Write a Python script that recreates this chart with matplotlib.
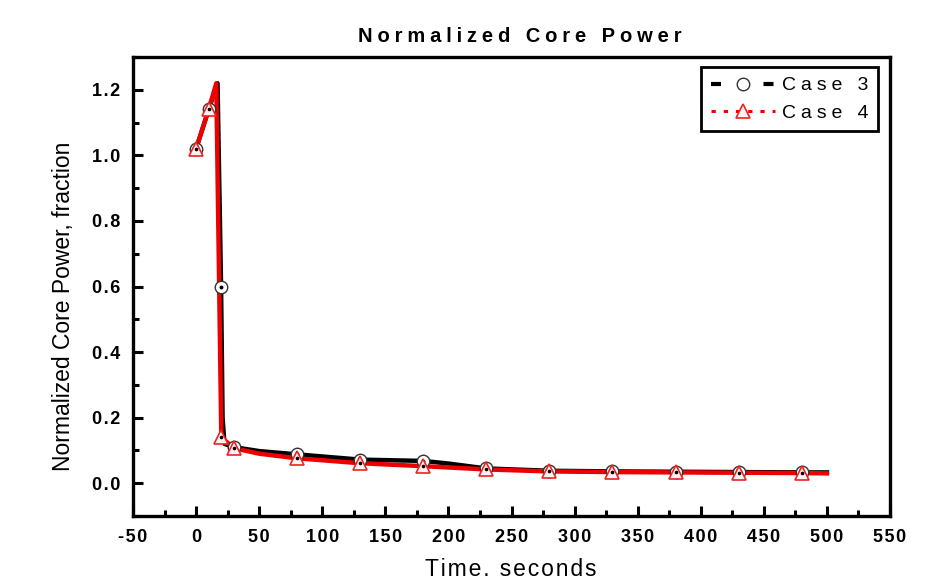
import matplotlib
matplotlib.use("Agg")
import matplotlib.pyplot as plt
from matplotlib.lines import Line2D
from matplotlib.ticker import MultipleLocator

# ---- data ----
case3_t = [0, 10, 17, 19.8, 21, 22.5, 30, 50, 80, 130, 180, 200, 230, 280, 330, 380, 430, 480, 500]
case3_p = [1.02, 1.14, 1.22, 0.60, 0.20, 0.12, 0.11, 0.098, 0.088, 0.072, 0.068, 0.060, 0.045,
           0.038, 0.036, 0.035, 0.034, 0.033, 0.033]
case3_marks = [0, 1, 3, 6, 8, 9, 10, 12, 13, 14, 15, 16, 17]

case4_t = [0, 10, 16, 20, 30, 50, 80, 130, 180, 230, 280, 330, 380, 430, 480, 500]
case4_p = [1.02, 1.14, 1.22, 0.14, 0.107, 0.090, 0.076, 0.061, 0.052, 0.042, 0.036, 0.034,
           0.033, 0.032, 0.031, 0.030]
case4_marks = [0, 1, 3, 4, 6, 7, 8, 9, 10, 11, 12, 13, 14]

xticks = [-50, 0, 50, 100, 150, 200, 250, 300, 350, 400, 450, 500, 550]
yticks = [0.0, 0.2, 0.4, 0.6, 0.8, 1.0, 1.2]

title = "Normalized Core Power"
xlabel = "Time. seconds"
ylabel = "Normalized Core Power, fraction"
labels = ["Case 3", "Case 4"]

HS = "\u200a"
def spaced(s, n=1):
    return (HS * n).join(list(s))

plt.rcParams['font.family'] = ['Liberation Sans', 'DejaVu Sans']
plt.rcParams['axes.unicode_minus'] = False

fig = plt.figure(figsize=(9.31, 5.87), dpi=100)
ax = fig.add_axes([133/931, 1-516/587, (890-133)/931, (516-57)/587])

ax.plot(case3_t, case3_p, color='black', lw=3.2, zorder=2, solid_joinstyle='round')
ax.plot(case4_t, case4_p, color='#ee0000', lw=3.2, zorder=3, solid_joinstyle='round')
ax.plot(case3_t, case3_p, ls='none', marker='o', ms=9, mfc='white', mec='#333333', mew=1.0,
        markevery=case3_marks, zorder=4)
ax.plot(case3_t, case3_p, ls='none', marker='o', ms=1.8, mfc='black', mec='black',
        markevery=case3_marks, zorder=4.1)
ax.plot(case4_t, case4_p, ls='none', marker='^', ms=10, mfc='#fff2f2', mec='#ee2222', mew=1.2,
        markevery=case4_marks, zorder=5)
ax.plot(case4_t, case4_p, ls='none', marker='o', ms=1.6, mfc='black', mec='black',
        markevery=case4_marks, zorder=5.1)

ax.set_xlim(-50, 550)
ax.set_ylim(-0.1, 1.3)
ax.set_xticks(xticks)
ax.set_xticklabels([spaced(str(v), 1) for v in xticks])
ax.xaxis.set_minor_locator(MultipleLocator(25))
ax.set_yticks(yticks)
ax.set_yticklabels([spaced(f"{v:.1f}", 1) for v in yticks])
ax.yaxis.set_minor_locator(MultipleLocator(0.1))
ax.tick_params(which='both', direction='in', width=2.2, top=False, right=False)
ax.tick_params(which='major', length=7, labelsize=13, pad=9)
ax.tick_params(which='minor', length=4)
for lab in ax.get_xticklabels() + ax.get_yticklabels():
    lab.set_fontweight('bold')
for sp in ax.spines.values():
    sp.set_linewidth(2.4)

fig.text(520/931, 1-37/587, spaced(title, 3), ha='center', va='center', fontsize=14.5,
         fontweight='bold')
fig.text(511/931, 1-569/587, spaced(xlabel, 1), ha='center', va='center', fontsize=16.5)
fig.text(64/931, 1-306/587, ylabel, ha='center', va='center', rotation=90, fontsize=16.5)

handles = [
    Line2D([], [], color='black', lw=3, ls=(0, (2.4, 10.2)), marker='o', ms=9, mfc='white',
           mec='#333333', mew=1.0),
    Line2D([], [], color='#ee0000', lw=2.2, ls=(0, (1.4, 2.6)), marker='^', ms=10, mfc='#fff2f2',
           mec='#ee2222', mew=1.2),
]
leg = ax.legend(handles, [spaced(l, 3) for l in labels], loc='upper right',
                bbox_to_anchor=(0.984, 0.978), borderaxespad=0, fancybox=False,
                edgecolor='black', fontsize=14, handlelength=3.3, handletextpad=0.35,
                borderpad=0.5, labelspacing=0.5, framealpha=1)
leg.get_frame().set_linewidth(2.0)

fig.savefig("out.png", dpi=100)
